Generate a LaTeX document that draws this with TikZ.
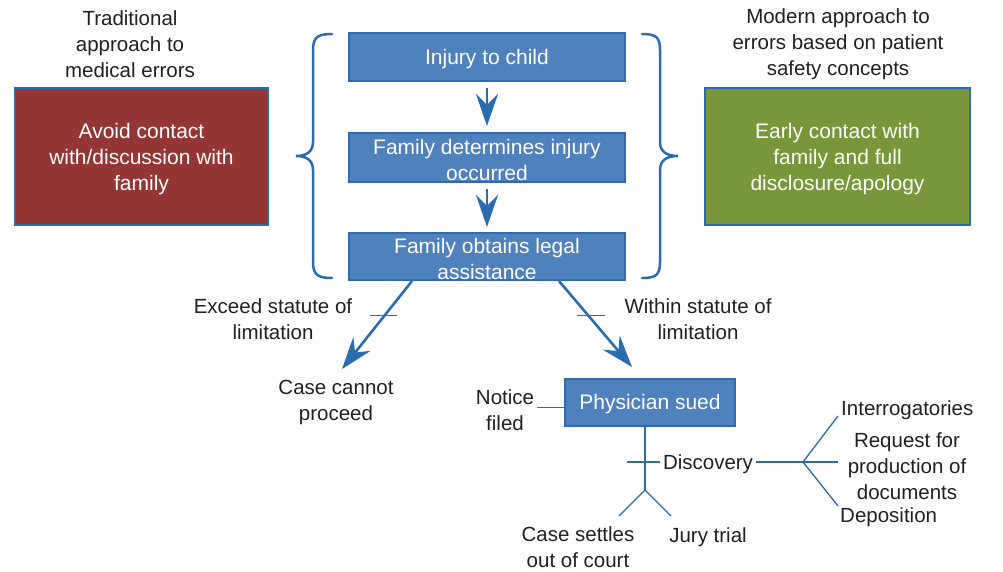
\documentclass[tikz,border=0pt]{standalone}
\usepackage{fontspec}
\setmainfont{Liberation Sans}
\usetikzlibrary{arrows.meta,calc}
\definecolor{boxblue}{HTML}{4F81BD}
\definecolor{edgeblue}{HTML}{2F6BAE}
\definecolor{lineblue}{HTML}{2A6CB0}
\definecolor{redfill}{HTML}{943634}
\definecolor{greenfill}{HTML}{77973A}
\definecolor{ink}{HTML}{231F20}
\begin{document}
\begin{tikzpicture}[x=1pt,y=-1pt,
  every node/.style={font=\fontsize{20.5}{26}\selectfont, text=ink, align=center, inner sep=0pt},
  flowbox/.style={draw=edgeblue, line width=2pt, fill=boxblue},
  sidebox/.style={draw=lineblue, line width=2pt},
  boxtext/.style={text=white, font=\fontsize{21}{26}\selectfont},
  arr/.style={draw=lineblue, line width=2.6pt, -{Stealth[length=32pt,width=22pt,inset=11pt]}},
  thin/.style={draw=lineblue, line width=1.3pt},
  brace/.style={draw=lineblue, line width=2.5pt, line cap=round},
  lbl/.style={inner sep=3pt}]
\useasboundingbox (0,0) rectangle (1003,571);

% side headings and boxes
\node[lbl] (trad) at (130,44) {Traditional\\approach to\\medical errors};
\node[sidebox, fill=redfill, minimum width=253pt, minimum height=137pt] (avoid) at (141.5,156.5) {};
\node[boxtext] (avoidt) at ($(avoid)+(0,2.5)$) {Avoid contact\\with/discussion with\\family};
\node[lbl] (modern) at (838,44) {Modern approach to\\errors based on patient\\safety concepts};
\node[sidebox, fill=greenfill, minimum width=265pt, minimum height=137pt] (early) at (837.5,156.5) {};
\node[boxtext] (earlyt) at ($(early)+(0,2.5)$) {Early contact with\\family and full\\disclosure/apology};

% main flow
\node[flowbox, minimum width=276pt, minimum height=48pt] (b1) at (487,57) {};
\node[boxtext] (b1t) at ($(b1)+(0,2.5)$) {Injury to child};
\node[flowbox, minimum width=276pt, minimum height=49pt] (b2) at (487,157.5) {};
\node[boxtext] (b2t) at ($(b2)+(0,2)$) {Family determines injury\\occurred};
\node[flowbox, minimum width=276pt, minimum height=47pt] (b3) at (487,256.5) {};
\node[boxtext] (b3t) at ($(b3)+(0,2)$) {Family obtains legal\\assistance};
\draw[arr, shorten <=6pt, shorten >=6pt] (b1.south) -- (b2.north);
\draw[arr, shorten <=6pt, shorten >=5pt] (b2.south) -- (b3.north);

% braces
\draw[brace] (332,34) .. controls (318,34) and (313,37) .. (313,50) -- (313,142)
  .. controls (313,152) and (306,156) .. (296,156)
  .. controls (306,156) and (313,160) .. (313,170) -- (313,262)
  .. controls (313,275) and (318,278) .. (332,278);
\draw[brace] (642,34) .. controls (656,34) and (660,37) .. (660,50) -- (660,142)
  .. controls (660,152) and (667,156) .. (678,156)
  .. controls (667,156) and (660,160) .. (660,170) -- (660,262)
  .. controls (660,275) and (656,278) .. (642,278);

% branches
\node[lbl] (exceed) at (273,319) {Exceed statute of\\limitation};
\node[lbl] (within) at (698,319) {Within statute of\\limitation};
\node[lbl] (cannot) at (336,402.5) {Case cannot\\proceed};
\node[flowbox, minimum width=170pt, minimum height=47pt] (phys) at (650,402.5) {};
\node[boxtext] (physt) at ($(phys)+(0,2)$) {Physician sued};
\coordinate (sL) at ($(b3.south west)+(64,0)$);
\coordinate (tL) at ($(cannot.north)+(6,-8)$);
\coordinate (sR) at ($(b3.south west)+(211,0)$);
\coordinate (tR) at ($(phys.north)+(-18,-11)$);
\draw[arr] (sL) -- (tL);
\draw[arr] (sR) -- (tR);
\coordinate (kL) at ($(sL)!0.39!(tL)$);
\coordinate (kR) at ($(sR)!0.40!(tR)$);
\draw[thin] ($(kL)+(-15,0)$) -- ($(kL)+(12,0)$);
\draw[thin] ($(kR)+(-11,0)$) -- ($(kR)+(17,0)$);

% notice
\node[lbl] (notice) at (505,410) {Notice\\filed};
\draw[thin] ($(notice.east)+(0,-2.5)$) -- ($(notice.east -| phys.west)+(0,-2.5)$);

% outcomes
\coordinate (stem) at (645,490);
\node (settle) at (578,547) {Case settles\\out of court};
\node[lbl] (jury) at (708,537) {Jury trial};
\coordinate (settleEnd) at (619,516);
\coordinate (juryEnd) at (671,516);
\draw[thin] (stem |- phys.south) -- (stem);
\draw[thin] (stem) -- (settleEnd);
\draw[thin] (stem) -- (juryEnd);

% discovery
\node[lbl] (disc) at (708,464) {Discovery};
\coordinate (discL) at (627,462);
\coordinate (fork) at (803,462);
\draw[thin] (discL) -- (discL -| disc.west);
\draw[thin] (fork -| disc.east) -- (fork);
\node[lbl, anchor=west, inner sep=1pt] (interr) at (840,410) {Interrogatories};
\node[lbl] (request) at (907,466) {Request for\\production of\\documents};
\node[lbl, anchor=west, inner sep=1pt] (depo) at (839,517) {Deposition};
\coordinate (fU) at (838,416);
\coordinate (fM) at (838,462);
\coordinate (fD) at (838,506);
\draw[thin] (fork) -- (fU);
\draw[thin] (fork) -- (fM);
\draw[thin] (fork) -- (fD);
\end{tikzpicture}
\end{document}
